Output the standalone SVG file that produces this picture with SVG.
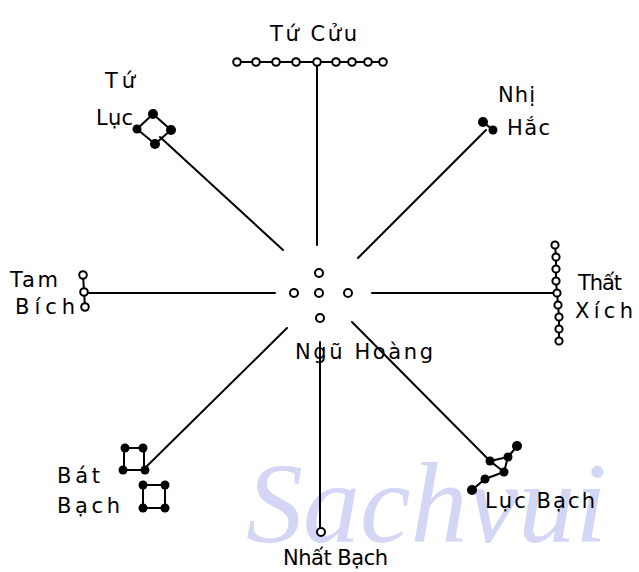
<svg xmlns="http://www.w3.org/2000/svg" width="639" height="572" viewBox="0 0 639 572">
<style>
.ln{stroke:#000;stroke-width:2;fill:none;stroke-linecap:round}
.wc{fill:#fff;stroke:#000;stroke-width:2}
.bd{fill:#000}
.t{font-family:"DejaVu Sans","Liberation Sans",sans-serif;font-size:21px;fill:#000}
.wm{font-family:"Liberation Serif","Times New Roman",serif;font-style:italic;font-size:114px;fill:#d3d6f5}
</style>
<rect width="639" height="572" fill="#fff"/>
<text class="wm" x="246" y="542">Sachvui</text>
<g id="connectors">
<line class="ln" x1="317" y1="62" x2="317" y2="245"/>
<line class="ln" x1="486" y1="130" x2="358" y2="258"/>
<line class="ln" x1="372" y1="293" x2="556" y2="293"/>
<line class="ln" x1="85" y1="293" x2="275" y2="293"/>
<line class="ln" x1="160" y1="137" x2="283" y2="250"/>
<line class="ln" x1="145" y1="468" x2="287" y2="328"/>
<line class="ln" x1="352" y1="322" x2="490" y2="461"/>
<line class="ln" x1="320" y1="342" x2="320" y2="527"/>
</g>
<g id="tu-cuu">
<line class="ln" x1="237" y1="62" x2="383" y2="62"/>
<circle class="wc" cx="237" cy="62" r="3.8"/>
<circle class="wc" cx="256" cy="62" r="3.8"/>
<circle class="wc" cx="276" cy="62" r="3.8"/>
<circle class="wc" cx="296" cy="62" r="3.8"/>
<circle class="wc" cx="317" cy="62" r="3.8"/>
<circle class="wc" cx="336" cy="62" r="3.8"/>
<circle class="wc" cx="352" cy="62" r="3.8"/>
<circle class="wc" cx="368" cy="62" r="3.8"/>
<circle class="wc" cx="383" cy="62" r="3.8"/>
<text class="t" x="270" y="41" textLength="87" lengthAdjust="spacing">Tứ Cửu</text>
</g>
<g id="tu-luc">
<polygon class="ln" points="153,114 171,130 155,144 137,129" stroke-width="2.5"/>
<circle class="bd" cx="153" cy="114" r="5"/>
<circle class="bd" cx="171" cy="130" r="5"/>
<circle class="bd" cx="155" cy="144" r="5"/>
<circle class="bd" cx="137" cy="129" r="4.5"/>
<text class="t" x="105" y="88" textLength="30" lengthAdjust="spacing">Tứ</text>
<text class="t" x="96" y="125" textLength="37" lengthAdjust="spacing">Lục</text>
</g>
<g id="nhi-hac">
<line class="ln" x1="483" y1="122" x2="493" y2="130" stroke-width="3"/>
<circle class="bd" cx="483" cy="122" r="5"/>
<circle class="bd" cx="493" cy="130" r="4.5"/>
<text class="t" x="498" y="102" textLength="37" lengthAdjust="spacing">Nhị</text>
<text class="t" x="507" y="135" textLength="43" lengthAdjust="spacing">Hắc</text>
</g>
<g id="tam-bich">
<line class="ln" x1="83" y1="275" x2="85" y2="307"/>
<circle class="wc" cx="83" cy="275" r="3.8"/>
<circle class="wc" cx="84" cy="292" r="3.8"/>
<circle class="wc" cx="85" cy="307" r="3.8"/>
<text class="t" x="10" y="287" textLength="48" lengthAdjust="spacing">Tam</text>
<text class="t" x="15" y="314" textLength="60" lengthAdjust="spacing">Bích</text>
</g>
<g id="ngu-hoang">
<circle class="wc" cx="319" cy="273" r="4"/>
<circle class="wc" cx="294" cy="293" r="4"/>
<circle class="wc" cx="319" cy="293" r="4"/>
<circle class="wc" cx="348" cy="293" r="4"/>
<circle class="wc" cx="320" cy="318" r="4"/>
<text class="t" x="295" y="359" textLength="138" lengthAdjust="spacing">Ngũ Hoàng</text>
</g>
<g id="that-xich">
<polyline class="ln" points="555,245 556,257 556,269 556,281 557,293 558,305 559,317 559,329 559,341"/>
<circle class="wc" cx="555" cy="245" r="3.6"/>
<circle class="wc" cx="556" cy="257" r="3.6"/>
<circle class="wc" cx="556" cy="269" r="3.6"/>
<circle class="wc" cx="556" cy="281" r="3.6"/>
<circle class="wc" cx="557" cy="293" r="3.6"/>
<circle class="wc" cx="558" cy="305" r="3.6"/>
<circle class="wc" cx="559" cy="317" r="3.6"/>
<circle class="wc" cx="559" cy="329" r="3.6"/>
<circle class="wc" cx="559" cy="341" r="3.6"/>
<text class="t" x="578" y="290" textLength="44" lengthAdjust="spacing">Thất</text>
<text class="t" x="575" y="318" textLength="58" lengthAdjust="spacing">Xích</text>
</g>
<g id="bat-bach">
<rect class="ln" x="124" y="448" width="20" height="22" stroke-width="3"/>
<rect class="ln" x="143" y="485" width="22" height="23" stroke-width="3"/>
<circle class="bd" cx="125" cy="448" r="4.5"/>
<circle class="bd" cx="143" cy="448" r="4.5"/>
<circle class="bd" cx="123" cy="470" r="4.5"/>
<circle class="bd" cx="145" cy="470" r="4.5"/>
<circle class="bd" cx="143" cy="485" r="4.5"/>
<circle class="bd" cx="165" cy="485" r="4.5"/>
<circle class="bd" cx="143" cy="508" r="4.5"/>
<circle class="bd" cx="165" cy="508" r="4.5"/>
<text class="t" x="57" y="483" textLength="43" lengthAdjust="spacing">Bát</text>
<text class="t" x="57" y="513" textLength="63" lengthAdjust="spacing">Bạch</text>
</g>
<g id="luc-bach">
<polyline class="ln" points="517,446 508,457 504,472 485,479 472,490" stroke-width="3"/>
<polyline class="ln" points="508,457 490,461 504,472" stroke-width="3"/>
<circle class="bd" cx="517" cy="446" r="5"/>
<circle class="bd" cx="508" cy="457" r="4.5"/>
<circle class="bd" cx="490" cy="461" r="4.5"/>
<circle class="bd" cx="504" cy="472" r="4.5"/>
<circle class="bd" cx="485" cy="479" r="4.5"/>
<circle class="bd" cx="472" cy="490" r="5"/>
<text class="t" x="485" y="508" textLength="110" lengthAdjust="spacing">Lục Bạch</text>
</g>
<g id="nhat-bach">
<circle class="wc" cx="321" cy="532" r="4"/>
<text class="t" x="283" y="565" textLength="105" lengthAdjust="spacing">Nhất Bạch</text>
</g>
</svg>
